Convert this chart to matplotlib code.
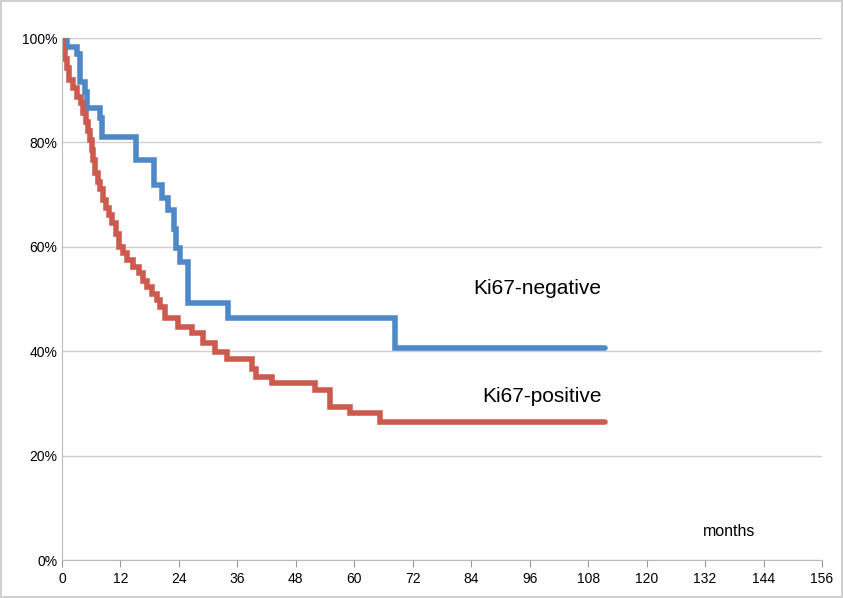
import matplotlib.pyplot as plt
import numpy as np

# Ki67-negative survival (months, %)
neg_months = [0, 1.0, 3.0, 3.6, 4.8, 5.2, 7.8, 8.3, 15.2, 18.9, 20.5, 21.8, 23.0,
              23.4, 24.2, 25.9, 34.1, 68.3, 111.5]
neg_surv = [100, 98.3, 97.0, 91.6, 89.7, 86.5, 84.7, 81.0, 76.6, 71.8, 69.3, 67.0,
            63.5, 59.8, 57.1, 49.2, 46.4, 40.6, 40.6]

# Ki67-positive survival (months, %)
pos_months = [0, 0.2, 0.6, 1.0, 1.5, 2.2, 3.1, 3.8, 4.3, 4.9, 5.3, 5.7, 6.1, 6.4,
              6.8, 7.3, 7.8, 8.4, 9.0, 9.6, 10.3, 11.0, 11.7, 12.5, 13.4, 14.6,
              15.8, 16.6, 17.4, 18.4, 19.4, 20.1, 21.1, 23.8, 26.7, 28.9, 31.4,
              33.9, 39.0, 39.8, 43.1, 51.9, 55.0, 59.1, 65.3, 111.5]
pos_surv = [100, 97.7, 96.0, 94.2, 92.0, 90.5, 88.7, 87.5, 85.6, 84.0, 82.2, 80.5,
            78.5, 76.6, 74.1, 72.5, 71.0, 69.0, 67.5, 66.0, 64.6, 62.5, 60.0, 58.8,
            57.5, 56.1, 55.0, 53.5, 52.3, 51.0, 49.8, 48.5, 46.4, 44.6, 43.5, 41.6,
            39.8, 38.5, 36.6, 35.1, 33.9, 32.6, 29.3, 28.2, 26.5, 26.5]

x_ticks = np.arange(0, 157, 12)
y_ticks = [0, 20, 40, 60, 80, 100]

plt.rcParams['font.family'] = ['Liberation Sans', 'DejaVu Sans']

fig = plt.figure(figsize=(8.43, 5.98), dpi=100)
fig.patch.set_edgecolor('#d0d0d0')
fig.patch.set_linewidth(1.5)
ax = fig.add_axes([62 / 843, 1 - 560 / 598, 760 / 843, 522 / 598])

ax.step(neg_months, neg_surv, where='post', color='#4f88c8', lw=4,
        solid_capstyle='round', solid_joinstyle='miter')
ax.step(pos_months, pos_surv, where='post', color='#cc5a4e', lw=4,
        solid_capstyle='round', solid_joinstyle='miter')

ax.set_xlim(0, 156)
ax.set_ylim(0, 100)
ax.set_xticks(x_ticks)
ax.set_yticks(y_ticks)
ax.set_yticklabels([f"{v}%" for v in y_ticks])
ax.tick_params(axis='both', labelsize=10, colors='#999999', labelcolor='black')
ax.tick_params(axis='x', length=5, direction='out')
ax.tick_params(axis='y', length=5, direction='in', left=False)
ax.grid(axis='y', color='#d0d0d0', lw=1)
ax.set_axisbelow(True)
for side in ['top', 'right']:
    ax.spines[side].set_visible(False)
for side in ['left', 'bottom']:
    ax.spines[side].set_color('#bbbbbb')

ax.text(97.5, 52.1, "Ki67-negative", fontsize=15, ha='center', va='center')
ax.text(98.5, 31.4, "Ki67-positive", fontsize=15, ha='center', va='center')
ax.text(137, 5.5, "months", fontsize=11.5, ha='center', va='center')

fig.savefig("out.png", dpi=100)
